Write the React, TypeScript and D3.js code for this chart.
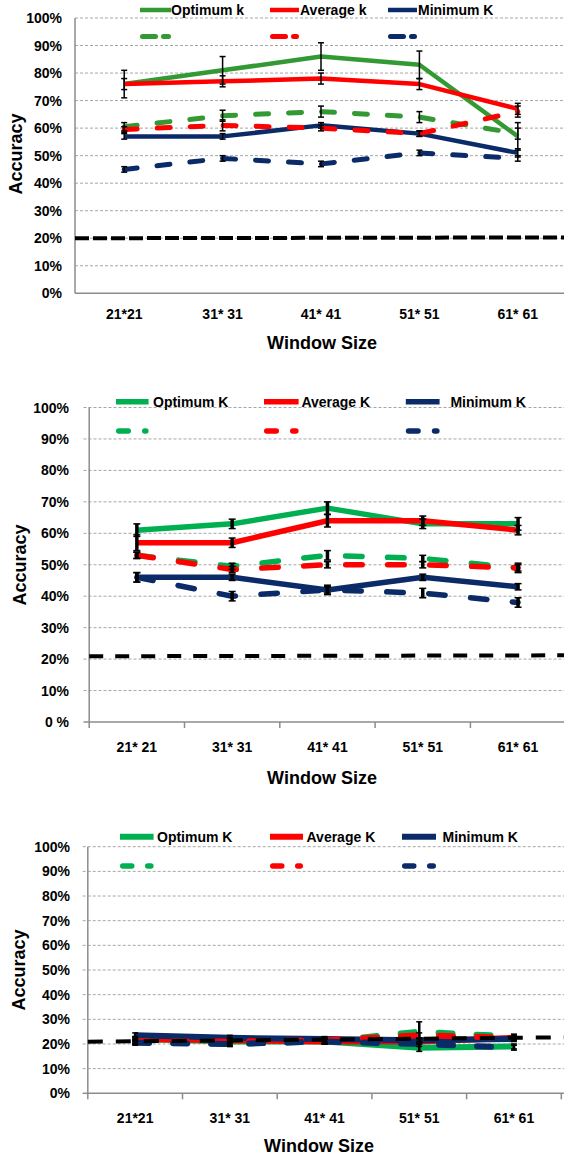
import React from "react";
import * as d3 from "d3";

// ---------- data ----------
const cats1 = ["21*21", "31* 31", "41* 41", "51* 51", "61* 61"];
const cats2 = ["21* 21", "31* 31", "41* 41", "51* 51", "61* 61"];
const cats3 = ["21*21", "31* 31", "41* 41", "51* 51", "61* 61"];

const yTicks = [0, 10, 20, 30, 40, 50, 60, 70, 80, 90, 100];
const yTickLabels1 = ["0%", "10%", "20%", "30%", "40%", "50%", "60%", "70%", "80%", "90%", "100%"];
const yTickLabels2 = ["0 %", "10%", "20%", "30%", "40%", "50%", "60%", "70%", "80%", "90%", "100%"];

const legendNames1 = ["Optimum k", "Average k", "Minimum K"];
const legendNames2 = ["Optimum K", "Average K", "Minimum K"];

// chart 1
const optSolid1 = [76, 81, 86, 83, 57];
const optSolidErr1 = [5, 5, 5, 5, 5];
const avgSolid1 = [76, 77, 78, 76, 67];
const avgSolidErr1 = [2, 2, 2, 2, 2];
const minSolid1 = [57, 57, 61, 58, 51];
const minSolidErr1 = [1, 1, 1, 1, 1.5];
const optDash1 = [60.5, 64.5, 66, 64, 58];
const optDashErr1 = [1.5, 2, 2, 2, 2];
const avgDash1 = [59.5, 61, 60, 58, 66];
const avgDashErr1 = [1, 2, 1, 1, 2];
const minDash1 = [45, 49, 47, 51, 49];
const minDashErr1 = [1, 1, 1, 1, 1];
const baseline1 = [20, 20.3];

// chart 2
const optSolid2 = [61, 63, 68, 63, 63];
const optSolidErr2 = [2, 1.5, 2, 1.5, 2];
const avgSolid2 = [57, 57, 64, 64, 61];
const avgSolidErr2 = [2.5, 1.5, 2, 1.5, 1.5];
const minSolid2 = [46, 46, 42, 46, 43];
const minSolidErr2 = [1.5, 1, 1.5, 1, 1];
const optDash2 = [53, 49.5, 53, 52, 49];
const optDashErr2 = [1, 1, 1.5, 1, 1];
const avgDash2 = [53, 48.5, 50, 50, 49];
const avgDashErr2 = [1, 1, 1, 1, 1.5];
const minDash2 = [46, 40, 42, 41, 38];
const minDashErr2 = [1.5, 1.5, 1, 1.5, 1.5];
const baseline2 = [20.9, 21.2];

// chart 3
const optSolid3 = [22, 21, 21, 18.5, 19];
const optSolidErr3 = [1, 1.5, 1, 1.5, 1];
const avgSolid3 = [22, 21.5, 21, 21, 22.5];
const avgSolidErr3 = [1, 1, 1, 1, 1];
const minSolid3 = [23.5, 22.5, 22, 21.5, 22];
const minSolidErr3 = [1, 1, 1, 1, 1];
const optDash3 = [21, 20, 21, 25, 23];
const optDashErr3 = [1, 1, 1, 4, 1];
const avgDash3 = [21, 21, 21.5, 23.5, 22.5];
const avgDashErr3 = [1, 1, 1, 1, 1];
const minDash3 = [20.5, 20, 21, 20, 18.5];
const minDashErr3 = [1, 1, 1, 1, 1];
const baseline3 = [20.9, 22.7];

// ---------- styles ----------
const W = 564;
const H = 1155;
const FONT = "'Liberation Sans', Arial, sans-serif";
const RED = "#ff0000";
const NAVY = "#0b2a68";
const GREEN1 = "#339933";
const GREEN2 = "#00b050";

type Series = { values: number[]; errs: number[]; color: string; dashed: boolean };

type Cfg = {
  cats: string[];
  tickLabels: string[];
  names: string[];
  series: Series[];
  baseline: number[];
  axisX: number;
  band: number;
  y0: number;
  y100: number;
  yLabelRight: number;
  gridStart: number;
  xTicks: boolean;
  xLabelY: number;
  titleX: number;
  titleY: number;
  accX: number;
  accY: number;
  legendRow1: number;
  legendRow2: number;
  legendCols: number[];
  legendLineLen: number[];
  legendTextX: number[];
  legendDash: string;
  legendDashW: number;
  solidW: number;
  dashW: number;
  dashArray: string;
  errW: number;
  capHalf: number;
  baseDash: string;
  baseW: number;
};

function mk(values: number[], errs: number[], color: string, dashed: boolean): Series {
  return { values, errs, color, dashed };
}

const cfg1: Cfg = {
  cats: cats1,
  tickLabels: yTickLabels1,
  names: legendNames1,
  series: [
    mk(optSolid1, optSolidErr1, GREEN1, false),
    mk(avgSolid1, avgSolidErr1, RED, false),
    mk(minSolid1, minSolidErr1, NAVY, false),
    mk(optDash1, optDashErr1, GREEN1, true),
    mk(avgDash1, avgDashErr1, RED, true),
    mk(minDash1, minDashErr1, NAVY, true),
  ],
  baseline: baseline1,
  axisX: 75,
  band: 98.4,
  y0: 293.3,
  y100: 18,
  yLabelRight: 62,
  gridStart: 75,
  xTicks: false,
  xLabelY: 319,
  titleX: 322,
  titleY: 349,
  accX: 16,
  accY: 154,
  legendRow1: 10,
  legendRow2: 36.5,
  legendCols: [140, 270, 388],
  legendLineLen: [31, 29, 29],
  legendTextX: [171, 300, 418],
  legendDash: "13 8",
  legendDashW: 5,
  solidW: 4.5,
  dashW: 5,
  dashArray: "13 20",
  errW: 1.5,
  capHalf: 3,
  baseDash: "14 4",
  baseW: 4,
};

const cfg2: Cfg = {
  cats: cats2,
  tickLabels: yTickLabels2,
  names: legendNames2,
  series: [
    mk(optSolid2, optSolidErr2, GREEN2, false),
    mk(avgSolid2, avgSolidErr2, RED, false),
    mk(minSolid2, minSolidErr2, NAVY, false),
    mk(optDash2, optDashErr2, GREEN2, true),
    mk(avgDash2, avgDashErr2, RED, true),
    mk(minDash2, minDashErr2, NAVY, true),
  ],
  baseline: baseline2,
  axisX: 89.2,
  band: 95.3,
  y0: 722,
  y100: 407.5,
  yLabelRight: 69,
  gridStart: 83.5,
  xTicks: true,
  xLabelY: 752,
  titleX: 322,
  titleY: 784,
  accX: 20,
  accY: 565,
  legendRow1: 401.7,
  legendRow2: 431,
  legendCols: [116, 264, 405.8],
  legendLineLen: [32.6, 34.6, 33.8],
  legendTextX: [153, 301.4, 450.4],
  legendDash: "9.5 16.5",
  legendDashW: 5.5,
  solidW: 5.5,
  dashW: 5.5,
  dashArray: "16.5 25.5",
  errW: 3.5,
  capHalf: 3.5,
  baseDash: "14 12",
  baseW: 4,
};

const cfg3: Cfg = {
  cats: cats3,
  tickLabels: yTickLabels1,
  names: legendNames2,
  series: [
    mk(optSolid3, optSolidErr3, GREEN2, false),
    mk(avgSolid3, avgSolidErr3, RED, false),
    mk(minSolid3, minSolidErr3, NAVY, false),
    mk(optDash3, optDashErr3, GREEN2, true),
    mk(avgDash3, avgDashErr3, RED, true),
    mk(minDash3, minDashErr3, NAVY, true),
  ],
  baseline: baseline3,
  axisX: 87.8,
  band: 94.7,
  y0: 1093.3,
  y100: 846.7,
  yLabelRight: 70,
  gridStart: 82.7,
  xTicks: true,
  xLabelY: 1123,
  titleX: 319,
  titleY: 1152,
  accX: 19,
  accY: 970,
  legendRow1: 836.7,
  legendRow2: 866,
  legendCols: [120, 270, 402],
  legendLineLen: [33.6, 33, 34],
  legendTextX: [157, 306.5, 442.5],
  legendDash: "9 16",
  legendDashW: 5.5,
  solidW: 6,
  dashW: 6,
  dashArray: "14 24",
  errW: 2.5,
  capHalf: 3,
  baseDash: "15 13",
  baseW: 4,
};

function Chart({ c }: { c: Cfg }) {
  const x = d3
    .scaleBand<string>()
    .domain(c.cats)
    .range([c.axisX, c.axisX + c.band * c.cats.length]);
  const cx = (cat: string) => (x(cat) as number) + x.bandwidth() / 2;
  const y = d3.scaleLinear().domain([0, 100]).range([c.y0, c.y100]);
  const line = d3
    .line<number>()
    .x((_, i) => cx(c.cats[i]))
    .y((v) => y(v));

  const baseX = d3.scaleLinear().domain([0, 1]).range([c.axisX, W]);
  const baseLine = d3
    .line<number>()
    .x((_, i) => baseX(i))
    .y((v) => y(v));

  const boundaries = d3.range(c.cats.length + 1).map((i) => c.axisX + i * x.step());

  return (
    <g>
      {/* gridlines */}
      {yTicks.slice(1).map((t) => (
        <line
          key={"g" + t}
          x1={c.gridStart}
          x2={W}
          y1={y(t)}
          y2={y(t)}
          stroke="#a6a6a6"
          strokeWidth={1}
          strokeDasharray="3 2"
        />
      ))}
      {/* axes */}
      <line x1={c.axisX} x2={c.axisX} y1={y(100)} y2={y(0)} stroke="#8c8c8c" strokeWidth={1.5} />
      <line x1={c.axisX} x2={W} y1={y(0)} y2={y(0)} stroke="#8c8c8c" strokeWidth={1.5} />
      {c.xTicks &&
        boundaries.map((bx, i) => (
          <line key={"xt" + i} x1={bx} x2={bx} y1={y(0)} y2={y(0) + 6} stroke="#8c8c8c" strokeWidth={1.5} />
        ))}
      {c.xTicks && (
        <line x1={c.gridStart} x2={c.axisX} y1={y(0)} y2={y(0)} stroke="#8c8c8c" strokeWidth={1.5} />
      )}
      {/* y tick labels */}
      {yTicks.map((t, i) => (
        <text
          key={"yl" + t}
          x={c.yLabelRight}
          y={y(t)}
          dy="0.36em"
          textAnchor="end"
          fontFamily={FONT}
          fontWeight="bold"
          fontSize={14}
        >
          {c.tickLabels[i]}
        </text>
      ))}
      {/* x tick labels */}
      {c.cats.map((cat) => (
        <text
          key={"xl" + cat}
          x={cx(cat)}
          y={c.xLabelY}
          textAnchor="middle"
          fontFamily={FONT}
          fontWeight="bold"
          fontSize={14}
        >
          {cat}
        </text>
      ))}
      <text x={c.titleX} y={c.titleY} textAnchor="middle" fontFamily={FONT} fontWeight="bold" fontSize={18}>
        Window Size
      </text>
      <text
        transform={`translate(${c.accX},${c.accY}) rotate(-90)`}
        textAnchor="middle"
        dy="0.36em"
        fontFamily={FONT}
        fontWeight="bold"
        fontSize={18}
      >
        Accuracy
      </text>
      {/* series lines */}
      {c.series.map((s, i) => (
        <path
          key={"s" + i}
          d={line(s.values) as string}
          fill="none"
          stroke={s.color}
          strokeWidth={s.dashed ? c.dashW : c.solidW}
          strokeDasharray={s.dashed ? c.dashArray : undefined}
          strokeLinecap={s.dashed ? "round" : "butt"}
          strokeLinejoin="round"
        />
      ))}
      {/* error bars */}
      {c.series.map((s, i) =>
        s.values.map((v, j) => {
          const px = cx(c.cats[j]);
          const yt = y(v + s.errs[j]);
          const yb = y(v - s.errs[j]);
          return (
            <g key={"e" + i + "_" + j} stroke="#000">
              <line x1={px} x2={px} y1={yt} y2={yb} strokeWidth={c.errW} />
              <line x1={px - c.capHalf} x2={px + c.capHalf} y1={yt} y2={yt} strokeWidth={1.5} />
              <line x1={px - c.capHalf} x2={px + c.capHalf} y1={yb} y2={yb} strokeWidth={1.5} />
            </g>
          );
        })
      )}
      {/* baseline */}
      <path
        d={baseLine(c.baseline) as string}
        fill="none"
        stroke="#000"
        strokeWidth={c.baseW}
        strokeDasharray={c.baseDash}
      />
      {/* legend */}
      {c.names.map((n, i) => (
        <g key={"lg" + i}>
          <line
            x1={c.legendCols[i]}
            x2={c.legendCols[i] + c.legendLineLen[i]}
            y1={c.legendRow1}
            y2={c.legendRow1}
            stroke={c.series[i].color}
            strokeWidth={c.solidW}
          />
          <text
            x={c.legendTextX[i]}
            y={c.legendRow1}
            dy="0.36em"
            fontFamily={FONT}
            fontWeight="bold"
            fontSize={14}
          >
            {n}
          </text>
          <line
            x1={c.legendCols[i] + c.legendDashW / 2}
            x2={c.legendCols[i] + c.legendLineLen[i] - c.legendDashW / 2}
            y1={c.legendRow2}
            y2={c.legendRow2}
            stroke={c.series[i + 3].color}
            strokeWidth={c.legendDashW}
            strokeDasharray={c.legendDash}
            strokeLinecap="round"
          />
        </g>
      ))}
    </g>
  );
}

export default function App() {
  return (
    <svg
      width={W}
      height={H}
      viewBox={`0 0 ${W} ${H}`}
      style={{ position: "absolute", left: 0, top: 0, background: "#fff" }}
    >
      <rect width={W} height={H} fill="#fff" />
      <Chart c={cfg1} />
      <Chart c={cfg2} />
      <Chart c={cfg3} />
    </svg>
  );
}
